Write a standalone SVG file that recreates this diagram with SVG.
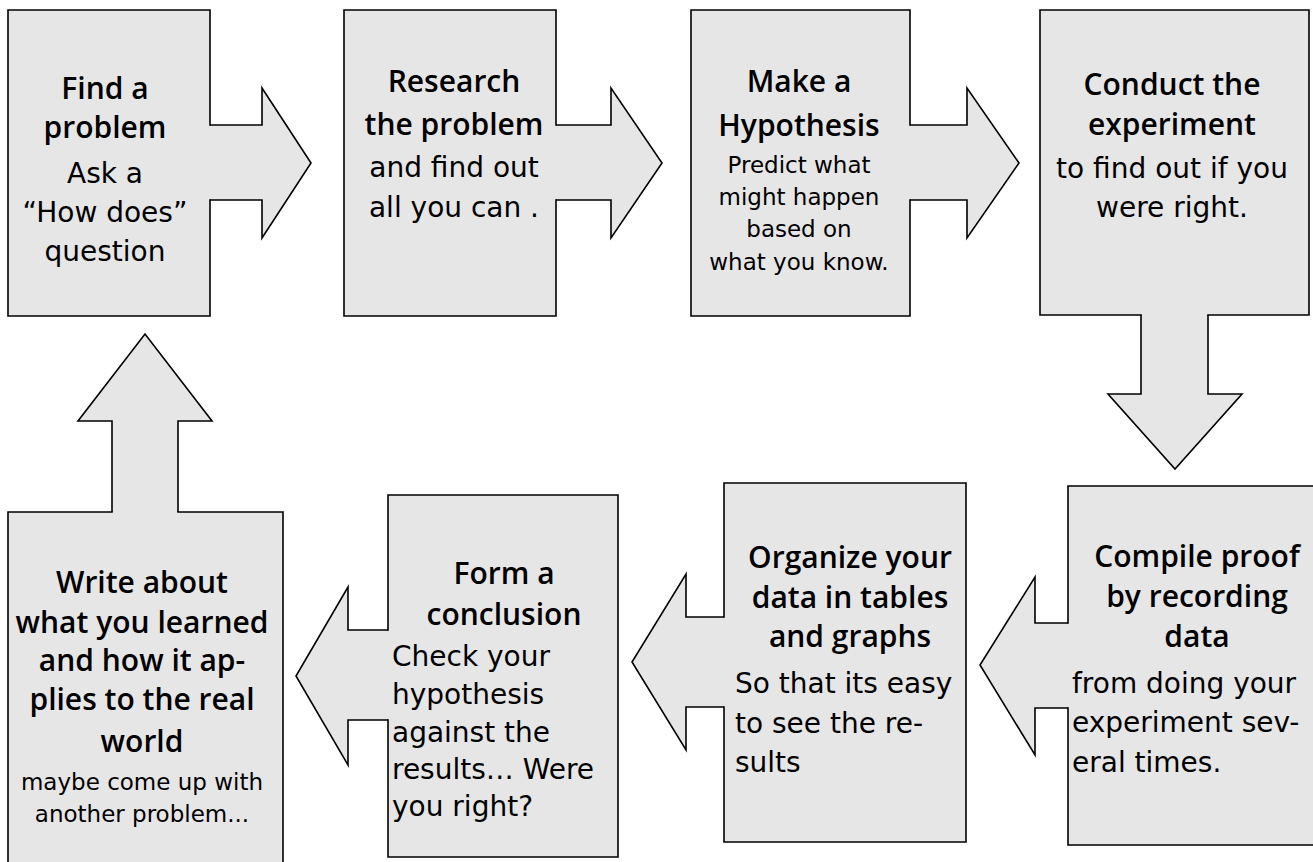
<svg xmlns="http://www.w3.org/2000/svg" width="1313" height="862" viewBox="0 0 1313 862">
<style>
.shape{fill:#e6e6e6;stroke:#000;stroke-width:1.6;stroke-linecap:square;stroke-linejoin:miter}
.h{font-family:"Open Sans","Noto Sans",sans-serif;font-weight:600;font-size:30px;text-anchor:middle;fill:#000}
.b{font-family:"DejaVu Sans","Liberation Sans",sans-serif;font-size:28px;text-anchor:middle;fill:#000}
.s{font-size:23px}
.l{text-anchor:start}
</style>
<rect width="1313" height="862" fill="#fff"/>
<g id="connectors">
<path class="shape" d="M210,125 H262 V88 L311,163 L262,238 V200 H210"/>
<path class="shape" d="M556,125 H611 V88 L662,163 L611,238 V200 H556"/>
<path class="shape" d="M910,125 H967 V88 L1019,163 L967,238 V200 H910"/>
<path class="shape" d="M1141,315 V394 H1108 L1175,469 L1242,394 H1208 V315"/>
<path class="shape" d="M1068,623 H1035 V577 L980,665 L1035,755 V708 H1068"/>
<path class="shape" d="M724,617 H686 V574 L632,662 L686,750 V707 H724"/>
<path class="shape" d="M388,630 H348 V587 L296,676 L348,765 V720 H388"/>
<path class="shape" d="M112,512 V421 H78 L145,334 L212,421 H178 V512"/>
</g>
<g id="node1">
<path class="shape" d="M210,125 V10 H8 V316 H210 V200"/>
<text class="h" x="105" y="99">Find a</text>
<text class="h" x="105" y="138">problem</text>
<text class="b" x="105" y="183">Ask a</text>
<text class="b" x="105" y="222">“How does”</text>
<text class="b" x="105" y="261">question</text>
</g>
<g id="node2">
<path class="shape" d="M556,125 V10 H344 V316 H556 V200"/>
<text class="h" x="454" y="92">Research</text>
<text class="h" x="454" y="135">the problem</text>
<text class="b" x="454" y="177">and find out</text>
<text class="b" x="454" y="217">all you can .</text>
</g>
<g id="node3">
<path class="shape" d="M910,125 V10 H691 V316 H910 V200"/>
<text class="h" x="799" y="92">Make a</text>
<text class="h" x="799" y="136">Hypothesis</text>
<text class="b s" x="799" y="173">Predict what</text>
<text class="b s" x="799" y="205">might happen</text>
<text class="b s" x="799" y="237">based on</text>
<text class="b s" x="799" y="270">what you know.</text>
</g>
<g id="node4">
<path class="shape" d="M1141,315 H1040 V10 H1309 V315 H1208"/>
<text class="h" x="1172" y="95">Conduct the</text>
<text class="h" x="1172" y="135">experiment</text>
<text class="b" x="1172" y="178">to find out if you</text>
<text class="b" x="1172" y="217">were right.</text>
</g>
<g id="node5">
<path class="shape" d="M1068,623 V486 H1314 V845 H1068 V708"/>
<text class="h" x="1197" y="567">Compile proof</text>
<text class="h" x="1197" y="607">by recording</text>
<text class="h" x="1197" y="647">data</text>
<text class="b l" x="1072" y="693">from doing your</text>
<text class="b l" x="1072" y="732">experiment sev-</text>
<text class="b l" x="1072" y="772">eral times.</text>
</g>
<g id="node6">
<path class="shape" d="M724,617 V483 H966 V842 H724 V707"/>
<text class="h" x="850" y="568">Organize your</text>
<text class="h" x="850" y="608">data in tables</text>
<text class="h" x="850" y="647">and graphs</text>
<text class="b l" x="735" y="693">So that its easy</text>
<text class="b l" x="735" y="733">to see the re-</text>
<text class="b l" x="735" y="772">sults</text>
</g>
<g id="node7">
<path class="shape" d="M388,630 V495 H618 V857 H388 V720"/>
<text class="h" x="504" y="584">Form a</text>
<text class="h" x="504" y="625">conclusion</text>
<text class="b l" x="392" y="666">Check your</text>
<text class="b l" x="392" y="704">hypothesis</text>
<text class="b l" x="392" y="742">against the</text>
<text class="b l" x="392" y="779">results… Were</text>
<text class="b l" x="392" y="816">you right?</text>
</g>
<g id="node8">
<path class="shape" d="M112,512 H8 V866 H283 V512 H178"/>
<text class="h" x="142" y="593">Write about</text>
<text class="h" x="142" y="633">what you learned</text>
<text class="h" x="142" y="671">and how it ap-</text>
<text class="h" x="142" y="710">plies to the real</text>
<text class="h" x="142" y="752">world</text>
<text class="b s" x="142" y="790">maybe come up with</text>
<text class="b s" x="142" y="822">another problem...</text>
</g>
</svg>
